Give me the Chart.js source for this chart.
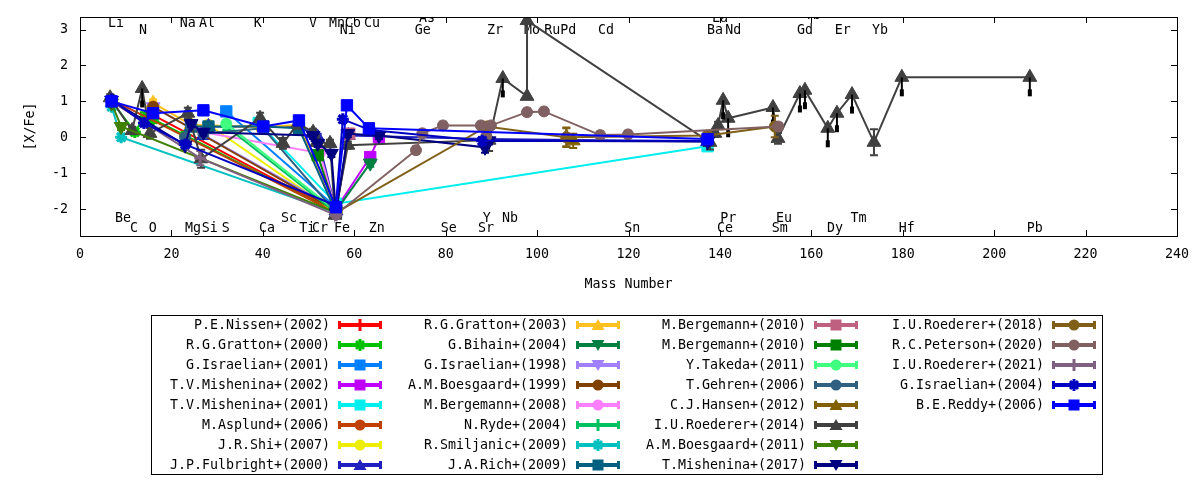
<!DOCTYPE html>
<html>
<head>
<meta charset="utf-8">
<script src="https://cdn.jsdelivr.net/npm/chart.js@4.4.1/dist/chart.umd.min.js"></script>
<style>
    html, body { margin: 0; padding: 0; background: #fff; }
    #wrap { position: relative; width: 1200px; height: 480px; }
    #legend { position: absolute; left: 151px; top: 315px; width: 950px; height: 158px;
              border: 1px solid #000; font: 13.3px "DejaVu Sans Mono", monospace; color: #000; }
    .item { position: absolute; width: 238px; height: 20px; }
    .item span { position: absolute; right: 59px; top: 0; line-height: 20px; white-space: nowrap; }
    .item canvas { position: absolute; left: 186px; top: 0; }
</style>
</head>
<body>
<div id="wrap">
    <canvas id="chart" width="1200" height="480"></canvas>
    <div id="legend"></div>
</div>
<script>
// element labels: name, mass position, height
const elementNames = ["Li", "N", "Na", "Al", "K", "V", "Mn", "Co", "Ni", "Cu", "As", "Ge", "Zr", "Mo", "Ru", "Pd", "Cd", "La", "Ba", "Nd", "Gd", "Tb", "Er", "Yb",
    "Be", "C", "O", "Mg", "Si", "S", "Ca", "Sc", "Ti", "Cr", "Fe", "Zn", "Se", "Sr", "Y", "Nb", "Sn", "Ce", "Pr", "Sm", "Eu", "Dy", "Tm", "Hf", "Pb"];
const elementMass = [7.9, 13.8, 23.6, 27.8, 38.9, 51.0, 56.2, 59.7, 58.6, 63.9, 75.9, 75.0, 90.8, 98.9, 103.3, 106.8, 115.1, 140.0, 138.9, 142.9, 158.6, 160.3, 166.9, 175.0,
    9.4, 11.8, 15.9, 24.7, 28.4, 31.9, 40.9, 45.7, 49.7, 52.5, 57.3, 64.9, 80.7, 88.8, 89.0, 94.1, 120.8, 141.1, 141.8, 153.1, 154.0, 165.2, 170.3, 180.9, 208.9];
const elementLevel = [3.17, 2.97, 3.17, 3.17, 3.17, 3.17, 3.17, 3.17, 2.97, 3.17, 3.3, 2.97, 2.97, 2.97, 2.97, 2.97, 2.97, 3.3, 2.97, 2.97, 2.97, 3.4, 2.97, 2.97,
    -2.25, -2.53, -2.53, -2.53, -2.53, -2.53, -2.53, -2.25, -2.53, -2.53, -2.53, -2.53, -2.53, -2.53, -2.25, -2.25, -2.53, -2.53, -2.25, -2.53, -2.25, -2.53, -2.25, -2.53, -2.53];

const xTicks = [0, 20, 40, 60, 80, 100, 120, 140, 160, 180, 200, 220, 240];
const yTicks = [-2, -1, 0, 1, 2, 3];

// each point: [mass, [X/Fe], error]
const nissen2002 = [[16, 0.62, 0.1], [56, -2.08, 0.05]];
const gratton2000 = [[6.9, 1.0, 0.1], [12, 0.15, 0.1], [14, 0.55, 0.15], [16, 0.5, 0.1], [23, 0.05, 0.1], [56, -2.1, 0.05]];
const israelian2001 = [[32, 0.72, 0.1], [56, -1.95, 0.05]];
const mishenina2002 = [[56, -2.0, 0.05], [63.5, -0.55, 0.1], [65.4, 0.0, 0.1]];
const mishenina2001 = [[39.1, 0.4, 0.1], [56, -1.85, 0.05], [137.3, -0.25, 0.1]];
const asplund2006 = [[6.9, 1.05, 0.1], [56, -2.1, 0.05]];
const shi2007 = [[28.1, 0.35, 0.1], [56, -2.1, 0.05]];
const fulbright2000 = [[23, -0.1, 0.1], [24.3, 0.3, 0.1], [27, 0.05, 0.1], [28.1, 0.3, 0.1], [40.1, 0.3, 0.1], [47.9, 0.3, 0.1], [50.9, 0.1, 0.1],
    [52, 0.0, 0.1], [56, -2.05, 0.05], [58.7, 0.05, 0.1], [88.9, -0.05, 0.1], [137.3, -0.12, 0.1]];
const gratton2003 = [[16, 0.95, 0.1], [24.3, 0.35, 0.1], [40.1, 0.28, 0.1], [47.9, 0.35, 0.1], [56, -2.0, 0.05]];
const bihain2004 = [[56, -2.05, 0.05], [63.5, -0.72, 0.1]];
const israelian1998 = [[16, 0.85, 0.1], [56, -2.0, 0.05]];
const boesgaard1999 = [[16, 0.85, 0.1], [56, -2.05, 0.05]];
const bergemann2008 = [[27, 0.14, 0.1], [52.5, -0.44, 0.1], [56, -2.05, 0.05]];
const ryde2004 = [[32, 0.3, 0.1], [56, -2.1, 0.05]];
const smiljanic2009 = [[6.9, 0.85, 0.1], [9, 0.0, 0.1], [56, -2.1, 0.05]];
const rich2009 = [[24.3, 0.3, 0.1], [28.1, 0.3, 0.1], [40.1, 0.3, 0.1], [47.9, 0.25, 0.1], [56, -2.1, 0.05]];
const bergemann2010a = [[56, -2.05, 0.05], [58.9, 0.1, 0.1]];
const bergemann2010b = [[52, -0.5, 0.1], [56, -2.05, 0.05]];
const takeda2011 = [[32, 0.38, 0.1], [56, -2.05, 0.05]];
const gehren2006 = [[23, 0.0, 0.1], [24.3, 0.3, 0.1], [27, 0.1, 0.1], [40.1, 0.25, 0.1], [56, -2.1, 0.05]];
const hansen2012 = [[106.4, 0.0, 0.27], [107.9, -0.1, 0.2]];
const roederer2014 = [[6.6, 1.1, 0.1], [11.4, 0.19, 0.1], [13.6, 1.36, 0], [15.3, 0.11, 0.15], [23.6, 0.67, 0.15], [26.5, -0.6, 0.25],
    [39.4, 0.53, 0.15], [44.4, -0.17, 0.15], [47.7, 0.39, 0.15], [51, 0.14, 0.1], [51.8, -0.14, 0.1], [54.7, -0.17, 0.1], [55.8, -2.17, 0.1],
    [58.6, -0.22, 0.1], [89.5, -0.08, 0.3], [92.5, 1.64, 0], [97.8, 1.14, 0], [97.8, 3.25, 0], [137.8, -0.14, 0.2], [138.9, 0.11, 0.1],
    [139.6, 0.33, 0.1], [140.7, 1.03, 0], [141.8, 0.53, 0], [151.6, 0.83, 0], [152.7, -0.03, 0.15], [157.5, 1.22, 0], [158.6, 1.31, 0],
    [163.6, 0.25, 0], [165.6, 0.67, 0], [168.9, 1.19, 0], [173.7, -0.14, 0.36], [179.8, 1.67, 0], [207.8, 1.67, 0]];
const roederer2014Limits = [0, 0, 1, 0, 0, 0, 0, 0, 0, 0, 0, 0, 0, 0, 0, 1, 0, 0, 0, 0, 0, 1, 1, 1, 0, 1, 1, 1, 1, 1, 0, 1, 1];
const boesgaard2011 = [[6.9, 0.95, 0.1], [9, 0.3, 0.1], [56, -2.1, 0.05]];
const mishenina2017 = [[6.9, 1.03, 0.1], [23, -0.22, 0.1], [24.3, 0.38, 0.1], [27, 0.14, 0.1], [51, 0.05, 0.1], [52, -0.17, 0.1], [55, -0.45, 0.1],
    [56, -2.1, 0.05], [58.6, 0.1, 0.1], [65.4, 0.05, 0.1], [88.6, -0.28, 0.15], [89.5, -0.1, 0.1], [137.3, -0.12, 0.1]];
const roederer2018 = [[56, -2.1, 0.05], [89, 0.3, 0.1], [106.4, 0.0, 0.25], [137.3, 0.05, 0.1], [152, 0.3, 0.3]];
const peterson2020 = [[56, -2.15, 0.05], [73.5, -0.36, 0.1], [74.9, 0.11, 0.1], [79.4, 0.33, 0.1], [87.7, 0.33, 0.1], [88.9, 0.03, 0.1], [89.9, 0.33, 0.1],
    [97.8, 0.7, 0.1], [101.5, 0.72, 0.1], [113.8, 0.06, 0.1], [119.9, 0.08, 0.1], [152.8, 0.3, 0.1]];
const roederer2021 = [[6.9, 1.0, 0.1], [26.3, -0.58, 0.2], [56, -2.17, 0.1]];
const israelian2004 = [[6.9, 1.05, 0.1], [14, 0.4, 0.1], [23, -0.2, 0.1], [56, -1.9, 0.05], [57.5, 0.5, 0.1], [63.5, 0.2, 0.1], [88, -0.1, 0.1], [137.3, -0.1, 0.1]];
const reddy2006 = [[6.9, 1.0, 0.1], [16, 0.67, 0.1], [27, 0.75, 0.1], [40.1, 0.3, 0.1], [47.9, 0.47, 0.1], [56, -1.95, 0.05], [58.4, 0.89, 0.1],
    [63.2, 0.25, 0.1], [137.3, -0.05, 0.1]];

const seriesNames = ["P.E.Nissen+(2002)", "R.G.Gratton+(2000)", "G.Israelian+(2001)", "T.V.Mishenina+(2002)", "T.V.Mishenina+(2001)",
    "M.Asplund+(2006)", "J.R.Shi+(2007)", "J.P.Fulbright+(2000)", "R.G.Gratton+(2003)", "G.Bihain+(2004)", "G.Israelian+(1998)",
    "A.M.Boesgaard+(1999)", "M.Bergemann+(2008)", "N.Ryde+(2004)", "R.Smiljanic+(2009)", "J.A.Rich+(2009)", "M.Bergemann+(2010)",
    "M.Bergemann+(2010)", "Y.Takeda+(2011)", "T.Gehren+(2006)", "C.J.Hansen+(2012)", "I.U.Roederer+(2014)", "A.M.Boesgaard+(2011)",
    "T.Mishenina+(2017)", "I.U.Roederer+(2018)", "R.C.Peterson+(2020)", "I.U.Roederer+(2021)", "G.Israelian+(2004)", "B.E.Reddy+(2006)"];
const seriesData = [nissen2002, gratton2000, israelian2001, mishenina2002, mishenina2001, asplund2006, shi2007, fulbright2000,
    gratton2003, bihain2004, israelian1998, boesgaard1999, bergemann2008, ryde2004, smiljanic2009, rich2009, bergemann2010a,
    bergemann2010b, takeda2011, gehren2006, hansen2012, roederer2014, boesgaard2011, mishenina2017, roederer2018, peterson2020,
    roederer2021, israelian2004, reddy2006];

// styles
const seriesColors = ["#ff0000", "#00c000", "#0080ff", "#c000ff", "#00eeee", "#c04000", "#eeee00", "#2020c0", "#ffc020", "#008040",
    "#a080ff", "#804000", "#ff80ff", "#00c060", "#00c0c0", "#006080", "#c06080", "#008000", "#40ff80", "#306080", "#806000",
    "#404040", "#408000", "#000080", "#806018", "#806060", "#806080", "#0000c0", "#0000ff"];
const markerStyles = ["cross", "star", "rect", "rect", "rect", "circle", "circle", "triangle", "triangle", "triangle", "triangle",
    "circle", "circle", "cross", "star", "rect", "rect", "rect", "circle", "circle", "triangle", "triangle", "triangle", "triangle",
    "circle", "circle", "cross", "star", "rect"];
const markerFlip = [0, 0, 0, 0, 0, 0, 0, 0, 0, 1, 1, 0, 0, 0, 0, 0, 0, 0, 0, 0, 0, 0, 1, 1, 0, 0, 0, 0, 0];
const markerRadius = { cross: 6, star: 6, rect: 8, circle: 5.5, triangle: 8 };
const fontFamily = "'DejaVu Sans Mono', monospace";

const datasets = seriesData.map((pts, i) => ({
    label: seriesNames[i],
    data: pts.map(p => ({ x: p[0], y: p[1] })),
    errors: pts.map(p => p[2]),
    limits: seriesData[i] === roederer2014 ? roederer2014Limits : null,
    borderColor: seriesColors[i],
    backgroundColor: seriesColors[i],
    borderWidth: 2,
    pointStyle: markerStyles[i],
    pointRotation: markerFlip[i] ? 180 : 0,
    pointRadius: markerRadius[markerStyles[i]],
    pointBorderWidth: (markerStyles[i] === "cross" || markerStyles[i] === "star") ? 3 : 1,
    pointHoverRadius: markerRadius[markerStyles[i]],
    showLine: true,
    tension: 0,
    fill: false,
    order: -i
}));

// error bars under each series, limit arrows on top
const errorBarPlugin = {
    id: "errorBars",
    beforeDatasetDraw(chart, args) {
        const ds = chart.data.datasets[args.index];
        const { ctx, chartArea: a, scales: { y } } = chart;
        ctx.save();
        ctx.beginPath();
        ctx.rect(a.left, a.top, a.right - a.left, a.bottom - a.top);
        ctx.clip();
        ctx.strokeStyle = ds.borderColor;
        ctx.lineWidth = 2;
        args.meta.data.forEach((pt, k) => {
            const e = ds.errors[k];
            if (!e) return;
            const v = ds.data[k].y;
            const y1 = y.getPixelForValue(v - e), y2 = y.getPixelForValue(v + e);
            ctx.beginPath();
            ctx.moveTo(pt.x, y1); ctx.lineTo(pt.x, y2);
            ctx.moveTo(pt.x - 4, y1); ctx.lineTo(pt.x + 4, y1);
            ctx.moveTo(pt.x - 4, y2); ctx.lineTo(pt.x + 4, y2);
            ctx.stroke();
        });
        ctx.restore();
    },
    afterDatasetDraw(chart, args) {
        const ds = chart.data.datasets[args.index];
        if (!ds.limits) return;
        const { ctx } = chart;
        ctx.save();
        ctx.strokeStyle = "#000";
        ctx.fillStyle = "#000";
        ctx.lineWidth = 2;
        args.meta.data.forEach((pt, k) => {
            if (!ds.limits[k]) return;
            ctx.beginPath();
            ctx.moveTo(pt.x, pt.y);
            ctx.lineTo(pt.x, pt.y + 18);
            ctx.stroke();
            ctx.fillRect(pt.x - 2, pt.y + 12, 4, 7);
        });
        ctx.restore();
    }
};

// element names inside the frame
const elementLabelPlugin = {
    id: "elementLabels",
    beforeDatasetsDraw(chart) {
        const { ctx, chartArea: a, scales: { x, y } } = chart;
        ctx.save();
        ctx.beginPath();
        ctx.rect(a.left, a.top, a.right - a.left, a.bottom - a.top);
        ctx.clip();
        ctx.font = "13.3px " + fontFamily;
        ctx.fillStyle = "#000";
        ctx.textAlign = "center";
        ctx.textBaseline = "middle";
        elementNames.forEach((name, i) => {
            ctx.fillText(name, x.getPixelForValue(elementMass[i]), y.getPixelForValue(elementLevel[i]));
        });
        ctx.restore();
    }
};

// frame with inward ticks on all sides
const framePlugin = {
    id: "frame",
    afterDraw(chart) {
        const { ctx, chartArea: a, scales: { x, y } } = chart;
        ctx.save();
        ctx.strokeStyle = "#000";
        ctx.lineWidth = 1;
        ctx.strokeRect(a.left + 0.5, a.top + 0.5, a.right - a.left, a.bottom - a.top);
        ctx.beginPath();
        xTicks.forEach(v => {
            const px = Math.round(x.getPixelForValue(v)) + 0.5;
            ctx.moveTo(px, a.bottom); ctx.lineTo(px, a.bottom - 6);
            ctx.moveTo(px, a.top); ctx.lineTo(px, a.top + 6);
        });
        yTicks.forEach(v => {
            const py = Math.round(y.getPixelForValue(v)) + 0.5;
            ctx.moveTo(a.left, py); ctx.lineTo(a.left + 6, py);
            ctx.moveTo(a.right, py); ctx.lineTo(a.right - 6, py);
        });
        ctx.stroke();
        ctx.restore();
    }
};

Chart.defaults.font.family = fontFamily;
Chart.defaults.font.size = 13.3;
Chart.defaults.color = "#000";

new Chart(document.getElementById("chart"), {
    type: "line",
    data: { datasets },
    options: {
        responsive: false,
        animation: false,
        layout: { padding: { left: 0, right: 23, top: 17, bottom: 180 } },
        plugins: { legend: { display: false }, tooltip: { enabled: false } },
        scales: {
            x: {
                type: "linear", min: 0, max: 240,
                afterBuildTicks: s => { s.ticks = xTicks.map(v => ({ value: v })); },
                afterFit: s => { s.height = 64; s.paddingLeft = 0; s.paddingRight = 0; },
                grid: { display: false, drawTicks: false },
                border: { display: false },
                ticks: { padding: 11, callback: v => v },
                title: { display: true, text: "Mass Number", padding: { top: 0, bottom: 7 } }
            },
            y: {
                type: "linear", min: -2.75, max: 3.35,
                afterBuildTicks: s => { s.ticks = yTicks.map(v => ({ value: v })); },
                afterFit: s => { s.width = 80; s.paddingTop = 0; s.paddingBottom = 0; },
                grid: { display: false, drawTicks: false },
                border: { display: false },
                ticks: { padding: 12, callback: v => v },
                title: { display: true, text: "[X/Fe]", padding: { top: 23, bottom: 0 } }
            }
        }
    },
    plugins: [errorBarPlugin, elementLabelPlugin, framePlugin]
});

// legend: 4 columns x 8 rows
function drawMark(c, style, flip, x, y, color) {
    c.fillStyle = color;
    c.strokeStyle = color;
    c.lineWidth = 3;
    c.beginPath();
    if (style === "rect") {
        c.fillRect(x - 5.5, y - 5.5, 11, 11);
    } else if (style === "circle") {
        c.arc(x, y, 5.5, 0, Math.PI * 2); c.fill();
    } else if (style === "triangle") {
        const s = flip ? -1 : 1;
        c.moveTo(x, y - 6 * s); c.lineTo(x + 6.5, y + 5 * s); c.lineTo(x - 6.5, y + 5 * s);
        c.closePath(); c.fill();
    } else if (style === "cross") {
        c.moveTo(x, y - 6); c.lineTo(x, y + 6); c.stroke();
    } else {
        c.moveTo(x - 4, y - 4); c.lineTo(x + 4, y + 4);
        c.moveTo(x + 4, y - 4); c.lineTo(x - 4, y + 4);
        c.moveTo(x, y - 6); c.lineTo(x, y + 6); c.stroke();
    }
}

const legend = document.getElementById("legend");
seriesNames.forEach((name, i) => {
    const col = Math.floor(i / 8), row = i % 8;
    const item = document.createElement("div");
    item.className = "item";
    item.style.left = (238 * col - 1) + "px";
    item.style.top = (20 * row - 1) + "px";
    const text = document.createElement("span");
    text.textContent = name;
    const cv = document.createElement("canvas");
    cv.width = 48; cv.height = 20;
    const c = cv.getContext("2d");
    c.strokeStyle = seriesColors[i];
    c.lineWidth = 4;
    c.beginPath(); c.moveTo(1, 10); c.lineTo(45, 10); c.stroke();
    c.lineWidth = 3;
    c.beginPath();
    c.moveTo(2.5, 6); c.lineTo(2.5, 14);
    c.moveTo(43.5, 6); c.lineTo(43.5, 14);
    c.stroke();
    drawMark(c, markerStyles[i], markerFlip[i], 23, 10, seriesColors[i]);
    item.appendChild(text);
    item.appendChild(cv);
    legend.appendChild(item);
});
</script>
</body>
</html>
